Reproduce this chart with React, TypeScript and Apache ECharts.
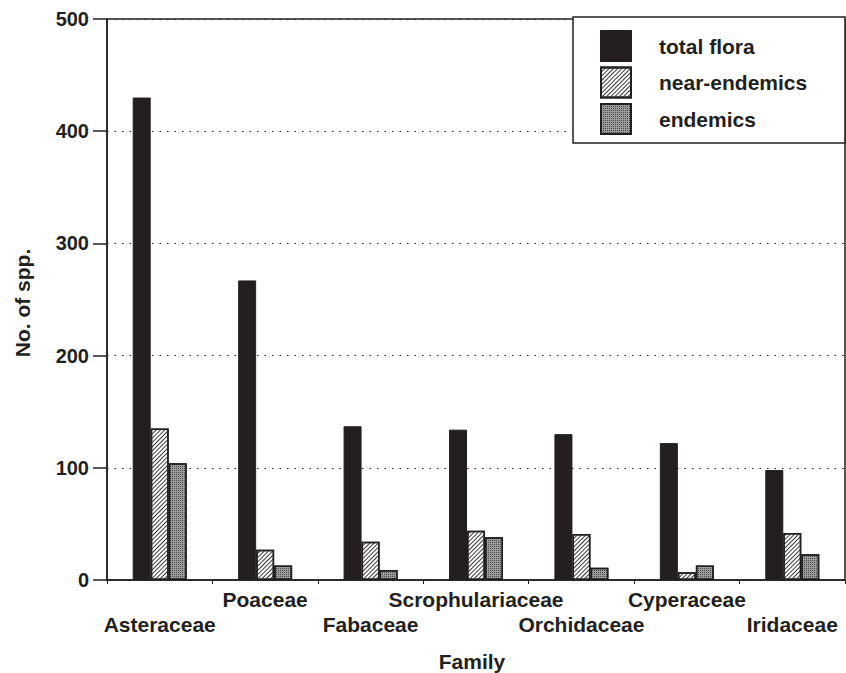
import React, { useEffect, useRef } from "react";
import * as echarts from "echarts";

const categories = [
  "Asteraceae",
  "Poaceae",
  "Fabaceae",
  "Scrophulariaceae",
  "Orchidaceae",
  "Cyperaceae",
  "Iridaceae",
];
const seriesNames = ["total flora", "near-endemics", "endemics"];
const totalFlora = [430, 267, 137, 134, 130, 122, 98];
const nearEndemics = [135, 27, 34, 44, 41, 7, 42];
const endemics = [104, 13, 9, 38, 11, 13, 23];
const yMin = 0;
const yMax = 500;
const yStep = 100;

const INK = "#231f20";
const FONT = "'Liberation Sans', Arial, Helvetica, sans-serif";

export default function App() {
  const ref = useRef<HTMLDivElement>(null);
  useEffect(() => {
    document.body.style.margin = "0";
    const chart = echarts.init(ref.current!, null, { renderer: "svg" });
    const barBase = {
      type: "bar",
      barWidth: 18,
      barGap: "0%",
    };
    chart.setOption({
      animation: false,
      backgroundColor: "#ffffff",
      textStyle: { fontFamily: FONT },
      grid: {
        left: 107,
        right: 1,
        top: 19,
        bottom: 93,
        show: true,
        borderColor: INK,
        borderWidth: 1.5,
        backgroundColor: "transparent",
      },
      legend: {
        orient: "vertical",
        left: 600,
        top: 30,
        padding: 0,
        itemGap: 4.5,
        itemWidth: 30,
        itemHeight: 30,
        icon: "rect",
        z: 5,
        data: seriesNames,
        textStyle: {
          fontFamily: FONT,
          fontSize: 21,
          fontWeight: "bold",
          color: INK,
          padding: [0, 0, 0, 23],
        },
      },
      graphic: [
        {
          type: "rect",
          z: 1,
          shape: { x: 573, y: 17, width: 272, height: 126 },
          style: { fill: "#ffffff", stroke: INK, lineWidth: 1.5 },
        },
        {
          type: "text",
          x: 22,
          y: 303,
          rotation: Math.PI / 2,
          style: {
            text: "No. of spp.",
            fontFamily: FONT,
            fontSize: 21,
            fontWeight: "bold",
            fill: INK,
            align: "center",
            verticalAlign: "middle",
          },
        },
        {
          type: "text",
          x: 472,
          y: 661,
          style: {
            text: "Family",
            fontFamily: FONT,
            fontSize: 21,
            fontWeight: "bold",
            fill: INK,
            align: "center",
            verticalAlign: "middle",
          },
        },
      ],
      xAxis: {
        type: "category",
        data: categories,
        axisLine: { lineStyle: { color: INK, width: 1.5 } },
        axisTick: { show: true, length: 4, lineStyle: { color: INK, width: 1 } },
        axisLabel: {
          interval: 0,
          margin: 7,
          color: INK,
          fontFamily: FONT,
          fontSize: 21,
          fontWeight: "bold",
          lineHeight: 25,
          formatter: (v: string, i: number) => (i % 2 === 0 ? "\n" + v : v),
        },
        splitLine: { show: false },
      },
      yAxis: {
        type: "value",
        min: yMin,
        max: yMax,
        interval: yStep,
        axisLine: { show: true, lineStyle: { color: INK, width: 1.5 } },
        axisTick: { show: true, length: 14, lineStyle: { color: INK, width: 1.5 } },
        axisLabel: {
          margin: 18,
          color: INK,
          fontFamily: FONT,
          fontSize: 20,
          fontWeight: "bold",
        },
        splitLine: {
          show: true,
          lineStyle: { color: INK, width: 1, type: [1.5, 6] },
        },
      },
      series: [
        {
          ...barBase,
          name: seriesNames[0],
          data: totalFlora,
          itemStyle: { color: INK, borderColor: INK, borderWidth: 1 },
        },
        {
          ...barBase,
          name: seriesNames[1],
          data: nearEndemics,
          itemStyle: {
            color: "#ffffff",
            borderColor: INK,
            borderWidth: 1.5,
            decal: {
              symbol: "rect",
              symbolSize: 1,
              color: "#3a3a3a",
              dashArrayX: [1, 0],
              dashArrayY: [1, 1.4],
              rotation: -Math.PI / 4,
            },
          },
        },
        {
          ...barBase,
          name: seriesNames[2],
          data: endemics,
          itemStyle: {
            color: "#9c9c9c",
            borderColor: INK,
            borderWidth: 1.5,
            decal: {
              symbol: "rect",
              symbolSize: 1,
              color: "rgba(20,20,20,0.6)",
              dashArrayX: [1, 1],
              dashArrayY: [1, 1],
              rotation: 0,
            },
          },
        },
      ],
    });
    return () => chart.dispose();
  }, []);
  return <div ref={ref} style={{ width: 846, height: 673 }} />;
}
